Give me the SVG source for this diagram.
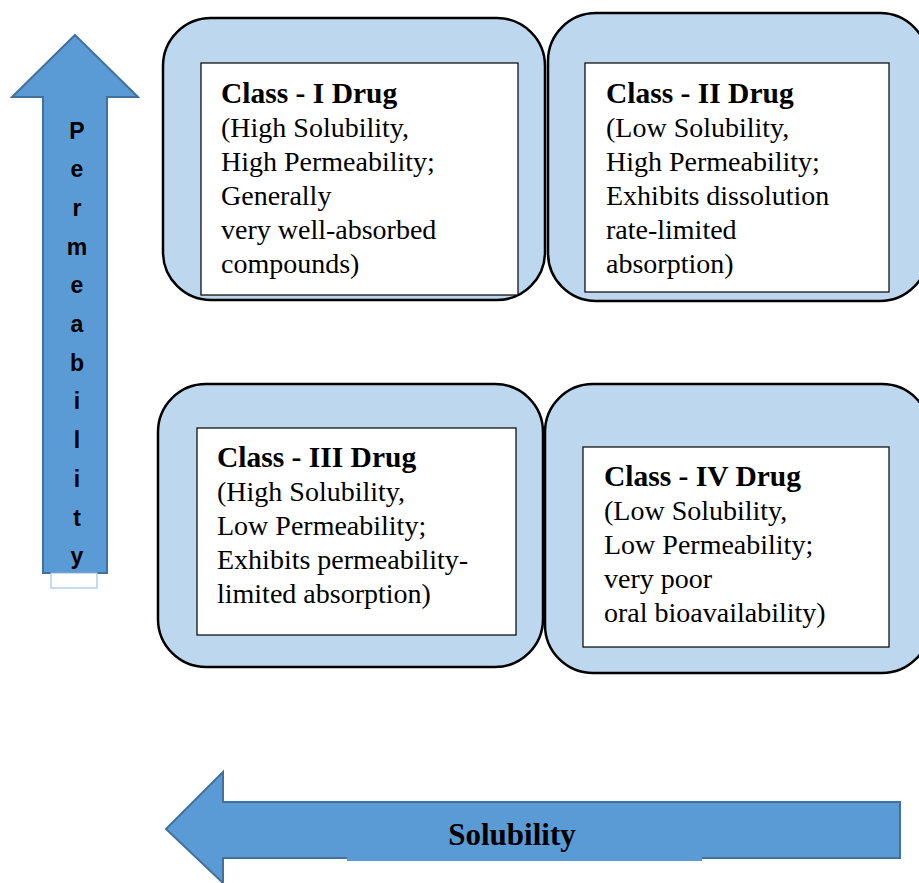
<svg xmlns="http://www.w3.org/2000/svg" width="919" height="883" viewBox="0 0 919 883">
<style>
.outer{fill:#bdd7ee;stroke:#000;stroke-width:2.5}
.inner{fill:#fff;stroke:#000;stroke-width:1.2}
.arrow{fill:#5b9bd5;stroke:#41719c;stroke-width:2}
.t{font-family:"Liberation Serif","Times New Roman",serif;font-size:28px;fill:#000}
.b{font-weight:bold;font-size:29.5px}
.perm{font-family:"Liberation Sans",Arial,sans-serif;font-size:23px;font-weight:bold;fill:#000;text-anchor:middle}
</style>
<rect width="919" height="883" fill="#fff"/>
<g id="connectors">
<g id="permeability-arrow">
<polygon class="arrow" points="75,35 138,97 107,97 107,573 43,573 43,97 12,97"/>
<rect x="51" y="573" width="46" height="15" fill="#fff" stroke="#9dc3e6" stroke-width="1.2"/>
<text class="perm" x="77" y="139">P</text>
<text class="perm" x="77" y="177">e</text>
<text class="perm" x="77" y="216">r</text>
<text class="perm" x="77" y="255">m</text>
<text class="perm" x="77" y="293">e</text>
<text class="perm" x="77" y="332">a</text>
<text class="perm" x="77" y="371">b</text>
<text class="perm" x="77" y="409">i</text>
<text class="perm" x="77" y="448">l</text>
<text class="perm" x="77" y="487">i</text>
<text class="perm" x="77" y="526">t</text>
<text class="perm" x="77" y="564">y</text>
</g>
<g id="solubility-arrow">
<polygon class="arrow" points="166,829 223,772 223,802 900,802 900,858 223,858 223,883"/>
<rect x="347" y="810" width="355" height="51" fill="#5b9bd5"/>
<text class="t b" x="512" y="845" text-anchor="middle" style="font-size:31px">Solubility</text>
</g>
</g>
<g id="class1">
<rect class="outer" x="163" y="18" width="382" height="282" rx="48"/>
<rect class="inner" x="201" y="63" width="317" height="232"/>
<text class="t" x="221" y="103"><tspan class="b">Class - I Drug</tspan><tspan x="221" dy="34">(High Solubility,</tspan><tspan x="221" dy="34">High Permeability;</tspan><tspan x="221" dy="34">Generally</tspan><tspan x="221" dy="34">very well-absorbed</tspan><tspan x="221" dy="34">compounds)</tspan></text>
</g>
<g id="class2">
<rect class="outer" x="548" y="13" width="380" height="288" rx="48"/>
<rect class="inner" x="585" y="63" width="304" height="229"/>
<text class="t" x="606" y="103"><tspan class="b">Class - II Drug</tspan><tspan x="606" dy="34">(Low Solubility,</tspan><tspan x="606" dy="34">High Permeability;</tspan><tspan x="606" dy="34">Exhibits dissolution</tspan><tspan x="606" dy="34">rate-limited</tspan><tspan x="606" dy="34">absorption)</tspan></text>
</g>
<g id="class3">
<rect class="outer" x="158" y="384" width="385" height="283" rx="48"/>
<rect class="inner" x="197" y="428" width="319" height="207"/>
<text class="t" x="217" y="467"><tspan class="b">Class - III Drug</tspan><tspan x="217" dy="34">(High Solubility,</tspan><tspan x="217" dy="34">Low Permeability;</tspan><tspan x="217" dy="34">Exhibits permeability-</tspan><tspan x="217" dy="34">limited absorption)</tspan></text>
</g>
<g id="class4">
<rect class="outer" x="545" y="384" width="385" height="289" rx="48"/>
<rect class="inner" x="583" y="447" width="306" height="200"/>
<text class="t" x="604" y="486"><tspan class="b">Class - IV Drug</tspan><tspan x="604" dy="34">(Low Solubility,</tspan><tspan x="604" dy="34">Low Permeability;</tspan><tspan x="604" dy="34">very poor</tspan><tspan x="604" dy="34">oral bioavailability)</tspan></text>
</g>
</svg>
